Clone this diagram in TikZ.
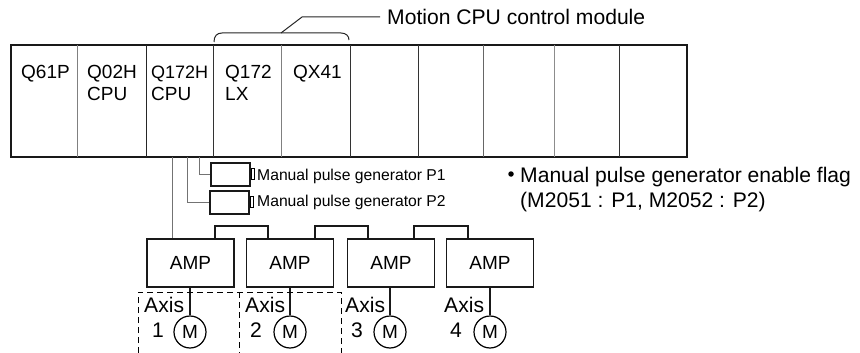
\documentclass[tikz,border=0pt]{standalone}
\usepackage{fontspec}
\setmainfont{Liberation Sans}
\begin{document}
\begin{tikzpicture}[x=1pt,y=-1pt,
  big/.style={font=\fontsize{21.1}{24}\selectfont,inner sep=0pt},
  small/.style={font=\fontsize{15.7}{18}\selectfont,inner sep=0pt,anchor=west},
  slot/.style={font=\fontsize{19}{22}\selectfont,inner sep=0pt,anchor=base west},
  wire/.style={line width=1pt,draw=black!85},
  thinwire/.style={line width=1pt,draw=black!55},
  heavy/.style={line width=1.6pt,draw=black!90},
  ampbox/.style={heavy,draw,minimum width=87pt,minimum height=48pt,inner sep=0pt,font=\fontsize{19}{22}\selectfont},
  pulsebox/.style={heavy,draw,minimum width=39pt,minimum height=23pt,inner sep=0pt},
  knob/.style={line width=1.2pt,draw=black,minimum width=3.5pt,minimum height=11pt,inner sep=0pt},
  motor/.style={circle,line width=1.2pt,draw=black,minimum size=32pt,inner sep=0pt,font=\fontsize{19}{22}\selectfont},
  axisbox/.style={line width=0.9pt,draw=black,dash pattern=on 6pt off 4pt}]
\useasboundingbox (0,0) rectangle (860,353);
\path[fill=white] (0,0) rectangle (860,353);
% rack
\node[heavy,draw,minimum width=676pt,minimum height=112pt,inner sep=0pt] (rack) at (349,101) {};
\foreach \n/\x/\c in {a/77/50,b/146/85,c/213/80,d/281/50,e/350/80,f/418/80,g/483/60,h/554/45,i/619/80}{
  \coordinate (t\n) at (\x,45);
  \coordinate (u\n) at (\x,157);
  \draw[line width=0.9pt,draw=black!\c] (t\n) -- (u\n);
}
\node[slot] (q1) at (21,78) {Q61P};
\node[slot] (q2a) at (87,78) {Q02H};
\node[slot] (q2b) at (87,100) {CPU};
\node[slot,font=\fontsize{18}{21}\selectfont] (q3a) at (151,78) {Q172H};
\node[slot] (q3b) at (151,100) {CPU};
\node[slot] (q4a) at (225,78) {Q172};
\node[slot] (q4b) at (225,100) {LX};
\node[slot] (q5) at (293,78) {QX41};
% bracket
\coordinate (bl) at (214,42);
\coordinate (bm) at (281,33);
\coordinate (br) at (349,40);
\coordinate (lk) at (302,17);
\node[big,anchor=west] (motion) at (387,17) {Motion CPU control module};
\draw[wire] (bl) .. controls (214,36) and (217,33) .. (222,33) -- (341,33) .. controls (346,33) and (349,36) .. (br);
\draw[wire] (bm) -- (lk) -- (motion.west -| 380,17);
% pulse generators
\node[pulsebox,anchor=north west] (p1) at (210,162) {};
\node[pulsebox,anchor=north west] (p2) at (209,190) {};
\node[knob,anchor=west] (k1) at (p1.east) {};
\node[knob,anchor=west] (k2) at (p2.east) {};
\node[small] (t1) at (257,176) {Manual pulse generator P1};
\node[small] (t2) at (257,202) {Manual pulse generator P2};
\coordinate (c1) at (199,157);
\coordinate (c2) at (187,157);
\coordinate (c3) at (172,157);
\draw[thinwire] (c1) |- (p1.west);
\draw[thinwire] (c2) |- (p2.west);
% flag text
\node[circle,fill=black,minimum size=5.5pt,inner sep=0pt] (dot) at (511,174) {};
\node[big,anchor=base west] (f1) at (520,182) {Manual pulse generator enable flag};
\node[big,anchor=base west] (f2) at (520,207) {(M2051 : P1, M2052 : P2)};
% amps
\node[ampbox] (a1) at (190.5,263) {AMP};
\node[ampbox] (a2) at (290,263) {AMP};
\node[ampbox] (a3) at (391,263) {AMP};
\node[ampbox] (a4) at (490,263) {AMP};
\draw[thinwire] (c3) -- (c3 |- a1.north);
\draw[heavy] (215,239) -- (215,226) -- (268,226) -- (268,239);
\draw[heavy] (315,239) -- (315,226) -- (368,226) -- (368,239);
\draw[heavy] (414,239) -- (414,226) -- (468,226) -- (468,239);
% motors
\node[motor] (m1) at (190,332) {M};
\node[motor] (m2) at (290,332) {M};
\node[motor] (m3) at (390,332) {M};
\node[motor] (m4) at (490,332) {M};
\draw[heavy] (a1.south -| m1) -- (m1.north);
\draw[heavy] (a2.south -| m2) -- (m2.north);
\draw[heavy] (a3.south -| m3) -- (m3.north);
\draw[heavy] (a4.south -| m4) -- (m4.north);
% axes
\draw[axisbox] (138,353) -- (138,292) -- (341,292) -- (341,353);
\draw[axisbox] (239,292) -- (239,353);
\foreach \n/\x/\d/\dx in {1/144/1/152,2/245/2/250,3/345/3/351,4/444/4/450}{
  \node[big,anchor=base west] (ax\n) at (\x,312) {Axis};
  \node[big,anchor=base west] (nr\n) at (\dx,337) {\d};
}
\end{tikzpicture}
\end{document}
